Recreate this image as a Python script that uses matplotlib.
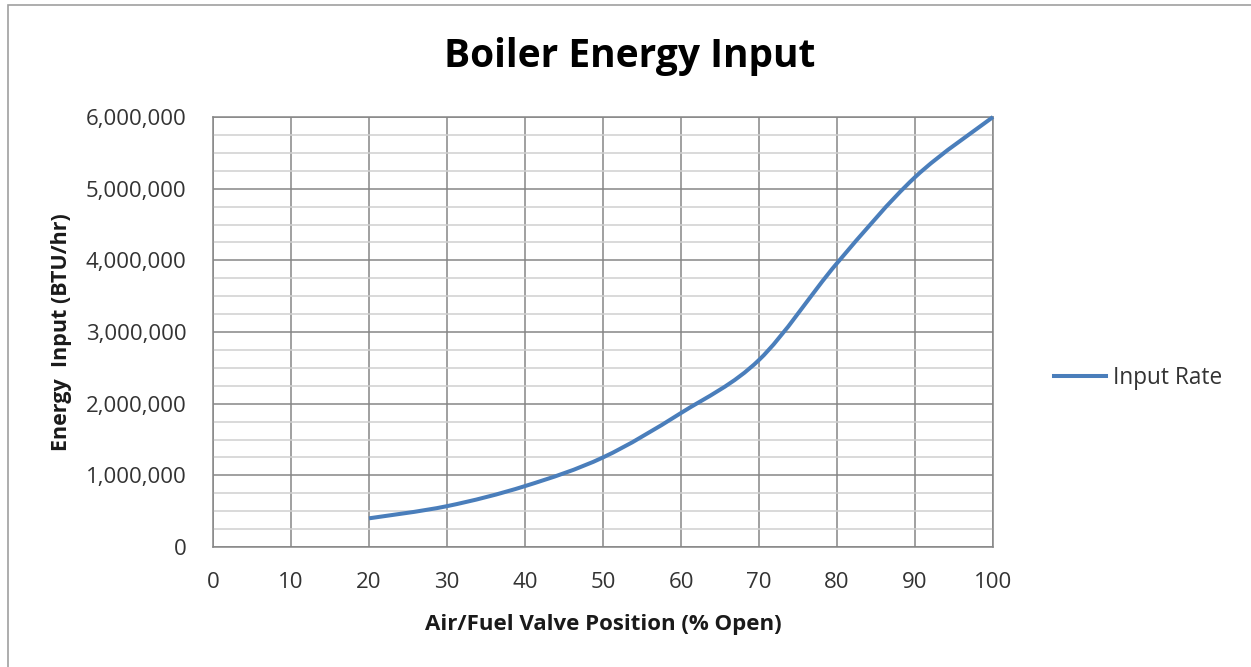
import matplotlib
matplotlib.use("Agg")
import matplotlib.pyplot as plt
from matplotlib.path import Path
from matplotlib.patches import PathPatch, Rectangle
from matplotlib.lines import Line2D
from matplotlib.ticker import FuncFormatter, MultipleLocator
import numpy as np

# valve position (% open) and energy input (BTU/hr)
valve_pos = [20, 30, 40, 50, 60, 70, 80, 90, 100]
energy_in = [400000, 570000, 850000, 1250000, 1870000, 2610000, 3960000, 5160000, 6000000]
series_name = "Input Rate"

x_ticks = list(range(0, 101, 10))
y_ticks = list(range(0, 6000001, 1000000))

plt.rcParams['font.family'] = ['Open Sans', 'DejaVu Sans']

fig = plt.figure(figsize=(12.51, 6.67), dpi=100)
ax = fig.add_axes([213/1251, 1-547/667, (993-213)/1251, (547-117)/667])

# outer chart border
fig.patches.append(Rectangle((8/1251, -0.1), 1.2, 1-5/667+0.1, transform=fig.transFigure,
                             fill=False, edgecolor='#a0a0a0', lw=1.2))

# smoothed line like Excel: cubic bezier through the points
px = np.array(valve_pos, dtype=float)
py = np.array(energy_in, dtype=float)
n = len(px)
verts = [(px[0], py[0])]
codes = [Path.MOVETO]
for i in range(n - 1):
    i0 = max(i - 1, 0)
    i3 = min(i + 2, n - 1)
    c1 = (px[i] + (px[i+1] - px[i0]) / 6, py[i] + (py[i+1] - py[i0]) / 6)
    c2 = (px[i+1] - (px[i3] - px[i]) / 6, py[i+1] - (py[i3] - py[i]) / 6)
    verts += [c1, c2, (px[i+1], py[i+1])]
    codes += [Path.CURVE4] * 3
line_color = '#4a7ebb'
ax.add_patch(PathPatch(Path(verts, codes), facecolor='none', edgecolor=line_color,
                       lw=2.9, capstyle='butt', zorder=3, clip_on=False))

ax.set_xlim(0, 100)
ax.set_ylim(0, 6000000)
ax.set_xticks(x_ticks)
ax.set_yticks(y_ticks)
ax.yaxis.set_minor_locator(MultipleLocator(250000))
ax.yaxis.set_major_formatter(FuncFormatter(lambda v, p: f"{int(v):,}"))

ax.grid(True, which='major', color='#868686', lw=1.1)
ax.grid(True, which='minor', axis='y', color='#d0d0d0', lw=1.1)
ax.set_axisbelow(True)
for s in ax.spines.values():
    s.set_color('#868686')
    s.set_linewidth(1.1)

ax.tick_params(which='both', length=0, labelsize=16, labelcolor='#333333')
ax.tick_params(axis='x', pad=18)
ax.tick_params(axis='y', pad=19)

ax.set_xlabel("Air/Fuel Valve Position (% Open)", fontsize=16, fontweight='bold',
              color='#1a1a1a', labelpad=15)
ax.set_ylabel("Energy  Input (BTU/hr)", fontsize=15.5, fontweight='bold',
              color='#1a1a1a', labelpad=10)

fig.text(630/1251, 1-57/667, "Boiler Energy Input", ha='center', va='center',
         fontsize=28, fontweight='bold', color='black')

handle = Line2D([], [], color=line_color, lw=2.9)
fig.legend([handle], [series_name], loc='center left',
           bbox_to_anchor=(1034/1251, 1-378/667), frameon=False,
           fontsize=16.3, handlelength=2.3, handletextpad=0.3, labelcolor='#333333')

fig.savefig("out.png", dpi=100)
